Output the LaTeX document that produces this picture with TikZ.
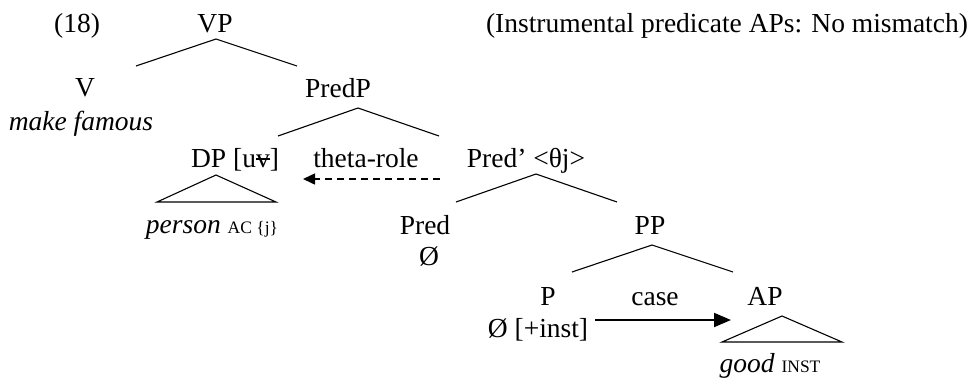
\documentclass[tikz,border=0pt]{standalone}
\usepackage{fontspec}
\setmainfont{Liberation Serif}
\usetikzlibrary{arrows.meta}
\newcommand{\strv}{\ooalign{v\cr\hidewidth\rule[0.24em]{0.5em}{0.08em}\hidewidth\cr}}
\newcommand{\subsm}[1]{{\fontsize{17.5}{20}\selectfont #1}}
\begin{document}
\begin{tikzpicture}[x=1pt,y=-1pt,
  lbl/.style={anchor=base,inner sep=0pt,font=\fontsize{27.5}{33}\selectfont},
  br/.style={line width=1.1pt},
  tri/.style={line width=1.1pt}]
\useasboundingbox (0,0) rectangle (973,381);
% labels
\node[lbl] (ex) at (77,32) {(18)};
\node[lbl] (vp) at (215,32) {VP};
\node[lbl] (cap) at (727,32) {(Instrumental predicate APs: No mismatch)};
\node[lbl] (v) at (85,96) {V};
\node[lbl] (mf) at (81,130) {\itshape make famous};
\node[lbl] (predp) at (338,97) {PredP};
\node[lbl] (dp) at (235,167) {DP [u\strv]};
\node[lbl] (theta) at (366,167) {theta-role};
\node[lbl] (predbar) at (526,167) {Pred’ <θj>};
\node[lbl] (person) at (212,233) {\textit{person} \subsm{AC \{j\}}};
\node[lbl] (pred) at (425,234) {Pred};
\node[lbl] (predo) at (429,265) {Ø};
\node[lbl] (pp) at (650,234) {PP};
\node[lbl] (p) at (548,305) {P};
\node[lbl] (po) at (538,337) {Ø [+inst]};
\node[lbl] (case) at (655,305) {case};
\node[lbl] (ap) at (765,305) {AP};
\node[lbl] (good) at (770,372) {\textit{good} \subsm{INST}};
% branch coordinates
\coordinate (vpt) at (216,39);
\coordinate (vpl) at (136,66);
\coordinate (vpr) at (297,66);
\coordinate (predpt) at (358,108);
\coordinate (predpl) at (278,136);
\coordinate (predpr) at (439,136);
\coordinate (pbt) at (536,174);
\coordinate (pbl) at (456,202);
\coordinate (pbr) at (617,202);
\coordinate (ppt) at (652,245);
\coordinate (ppl) at (572,272);
\coordinate (ppr) at (733,272);
\draw[br] (vpl) -- (vpt) -- (vpr);
\draw[br] (predpl) -- (predpt) -- (predpr);
\draw[br] (pbl) -- (pbt) -- (pbr);
\draw[br] (ppl) -- (ppt) -- (ppr);
% triangles
\coordinate (dpt) at (216,175);
\coordinate (dpl) at (157,202);
\coordinate (dpr) at (276,202);
\draw[tri] (dpt) -- (dpl) -- (dpr) -- cycle;
\coordinate (apt) at (782,316);
\coordinate (apl) at (722,342);
\coordinate (apr) at (842,342);
\draw[tri] (apt) -- (apl) -- (apr) -- cycle;
% arrows
\coordinate (da1) at (440,179);
\coordinate (da2) at (303,179);
\draw[line width=1.5pt,dash pattern=on 7pt off 5pt,-{Triangle[length=12pt,width=11pt]}] (da1) -- (da2);
\coordinate (sa1) at (595,320);
\coordinate (sa2) at (731,320);
\draw[line width=2pt,-{Triangle[length=17pt,width=14pt]}] (sa1) -- (sa2);
\end{tikzpicture}
\end{document}
